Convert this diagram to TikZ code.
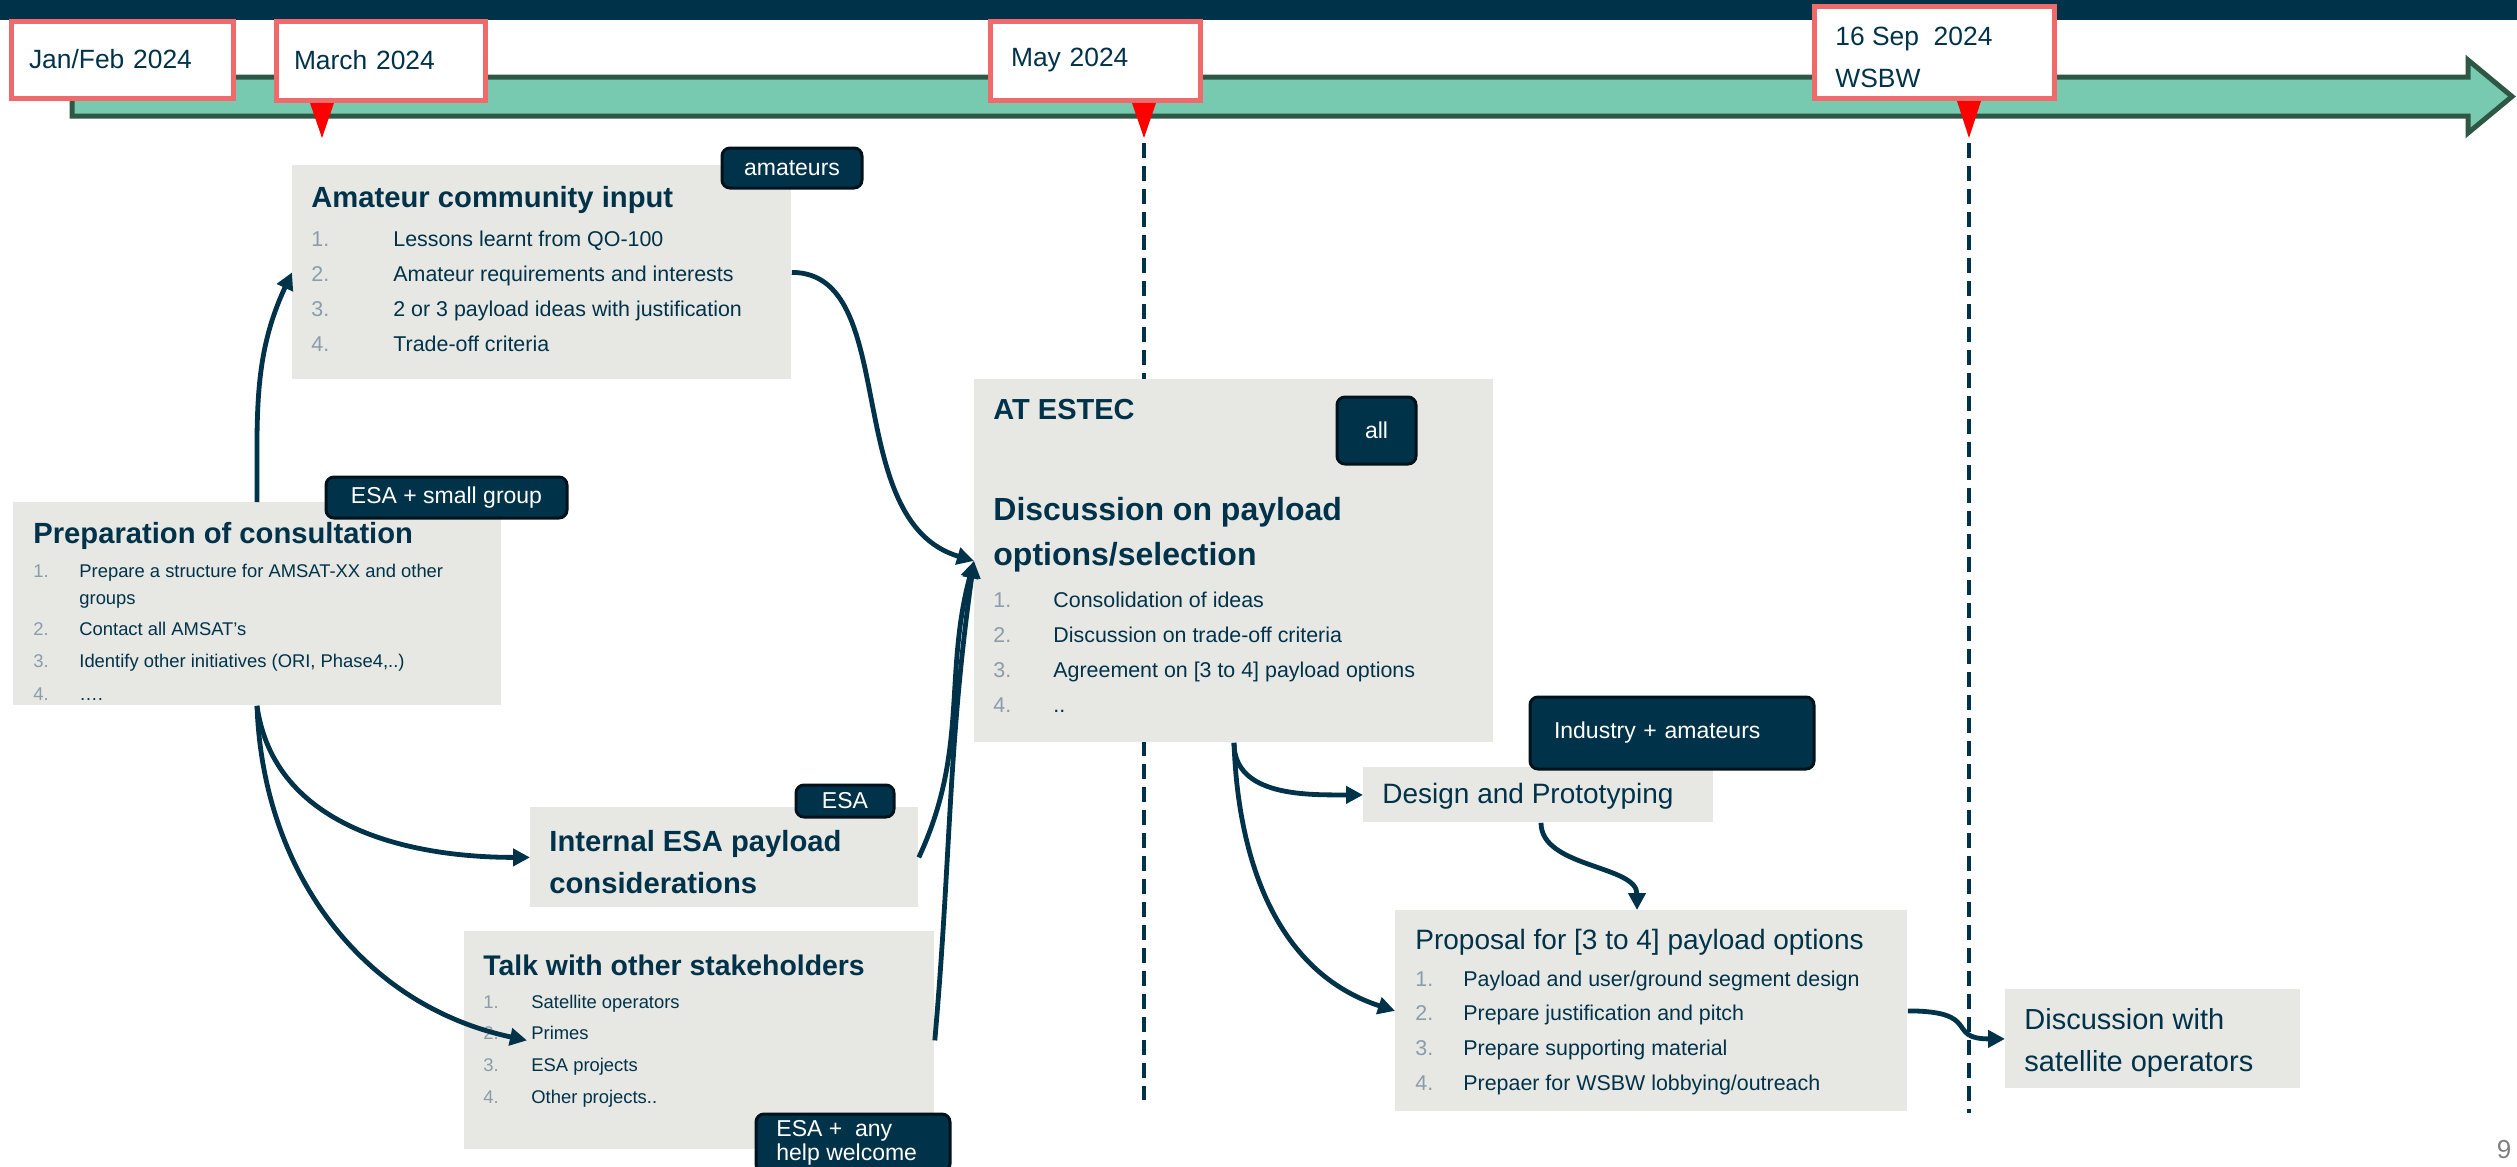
\documentclass[tikz,border=0pt]{standalone}
\usepackage{fontspec}
\setmainfont{Liberation Sans}
\usetikzlibrary{arrows.meta}

\definecolor{navy}{HTML}{00334A}
\definecolor{tagedge}{HTML}{00121C}
\definecolor{boxgray}{HTML}{E7E7E3}
\definecolor{numgray}{HTML}{8B9CAB}
\definecolor{tlgreen}{HTML}{77C9AF}
\definecolor{tledge}{HTML}{2F5746}
\definecolor{salmon}{HTML}{F06A6C}

\newcommand{\fnt}[1]{\fontsize{#1}{#1}\selectfont}
\newcommand{\inum}[2]{\makebox[#1][l]{\textcolor{numgray}{#2}}}

\tikzset{
  gbox/.style={fill=boxgray, inner sep=0pt, anchor=north west},
  txt/.style={anchor=base west, inner sep=0pt, text=navy},
  datebox/.style={draw=salmon, line width=2.5pt, fill=white, inner ysep=0pt,
    align=left, text=navy, font=\fnt{13.2}},
  tag/.style={fill=navy, draw=tagedge, line width=1.5pt, rounded corners=4pt,
    text=white, font=\fnt{11.5}, inner sep=0pt},
  conn/.style={draw=navy, line width=2.4pt, -{Triangle[length=8.5pt,width=8.5pt]}},
  milestone/.style={navy, line width=1.7pt, dash pattern=on 7.5pt off 4pt}
}

\begin{document}
\begin{tikzpicture}[x=0.5pt, y=0.5pt]
  \useasboundingbox (0,0) rectangle (2517,-1167);

  % top bar and time line
  \fill[navy] (0,0) rectangle (2517,-20);
  \draw[tledge, fill=tlgreen, line width=2.5pt, line join=miter]
    (72,-77) -- (2468,-77) -- (2468,-60) -- (2512,-96.5) -- (2468,-133)
    -- (2468,-116) -- (72,-116) -- cycle;

  % milestones
  \fill[red] (309,-100) -- (335,-100) -- (322,-138) -- cycle;
  \fill[red] (1131,-100) -- (1157,-100) -- (1144,-138) -- cycle;
  \fill[red] (1956,-98) -- (1982,-98) -- (1969,-138) -- cycle;
  \draw[milestone] (1144,-143) -- (1144,-1100);
  \draw[milestone] (1969,-143) -- (1969,-1113);

  \node[datebox, minimum width=111pt, minimum height=38.5pt, inner xsep=9pt,
    text width=93pt] (jan) at (122,-59.5) {Jan/Feb 2024};
  \node[datebox, minimum width=104.5pt, minimum height=39.5pt, inner xsep=9pt,
    text width=86.5pt] (mar) at (380.5,-60.5) {March 2024};
  \node[datebox, minimum width=105pt, minimum height=39.5pt, inner xsep=10.5pt,
    text width=84pt] (may) at (1095,-60.5) {May 2024};
  \node[datebox, minimum width=120pt, minimum height=46pt, inner xsep=10.5pt,
    text width=99pt] (sep) at (1934,-52) {};
  \node[txt, font=\fnt{13.2}] (sep-1) at (1835,-45) {16 Sep~~2024};
  \node[txt, font=\fnt{13.2}] (sep-2) at (1835,-87) {WSBW};

  % boxes
  \node[gbox, minimum width=249.5pt, minimum height=107pt] (amat) at (292,-165) {};
  \node[gbox, minimum width=244pt, minimum height=101.5pt] (prep) at (13,-502) {};
  \node[gbox, minimum width=259.5pt, minimum height=181.5pt] (estec) at (974,-379) {};
  \node[gbox, minimum width=194pt, minimum height=50pt] (internal) at (530,-807) {};
  \node[gbox, minimum width=235pt, minimum height=109pt] (talk) at (464,-931) {};
  \node[gbox, minimum width=175pt, minimum height=27.5pt] (design) at (1363,-767) {};
  \node[gbox, minimum width=256pt, minimum height=100.5pt] (proposal) at (1395,-910) {};
  \node[gbox, minimum width=147.5pt, minimum height=49.5pt] (disc) at (2005,-989) {};

  % amateur community input
  \node[txt, font=\fnt{14.6}\bfseries] (amat-title) at (311,-207.5) {Amateur community input};
  \foreach \t [count=\i] in {Lessons learnt from QO-100, Amateur requirements and interests,
      2 or 3 payload ideas with justification, Trade-off criteria}
    \node[txt, font=\fnt{10.7}] (amat-\i) at (311,{-246-35*(\i-1)}) {\inum{41pt}{\i.}\t};

  % preparation of consultation
  \node[txt, font=\fnt{14.6}\bfseries] (prep-title) at (33,-543.5) {Preparation of consultation};
  \node[txt, font=\fnt{9.2}] (prep-1) at (33,-577) {\inum{23pt}{1.}Prepare a structure for AMSAT-XX and other};
  \node[txt, font=\fnt{9.2}] (prep-1b) at (79,-604) {groups};
  \node[txt, font=\fnt{9.2}] (prep-2) at (33,-635) {\inum{23pt}{2.}Contact all AMSAT’s};
  \node[txt, font=\fnt{9.2}] (prep-3) at (33,-667) {\inum{23pt}{3.}Identify other initiatives (ORI, Phase4,..)};
  \node[txt, font=\fnt{9.2}] (prep-4) at (33,-700) {\inum{23pt}{4.}….};

  % at estec
  \node[txt, font=\fnt{14.5}\bfseries] (estec-head) at (993,-419.5) {AT ESTEC};
  \node[txt, font=\fnt{16}\bfseries] (estec-t1) at (993,-520.5) {Discussion on payload};
  \node[txt, font=\fnt{16}\bfseries] (estec-t2) at (993,-565.5) {options/selection};
  \foreach \t [count=\i] in {Consolidation of ideas, Discussion on trade-off criteria,
      Agreement on [3 to 4] payload options, ..}
    \node[txt, font=\fnt{10.7}] (estec-\i) at (993,{-607-35.3*(\i-1)}) {\inum{30pt}{\i.}\t};

  % internal esa
  \node[txt, font=\fnt{14.6}\bfseries] (int-t1) at (549,-851.5) {Internal ESA payload};
  \node[txt, font=\fnt{14.6}\bfseries] (int-t2) at (549,-893.5) {considerations};

  % other stakeholders
  \node[txt, font=\fnt{14.2}\bfseries] (talk-title) at (483,-975) {Talk with other stakeholders};
  \foreach \t [count=\i] in {Satellite operators, Primes, ESA projects, Other projects..}
    \node[txt, font=\fnt{9.2}] (talk-\i) at (483,{-1008-31.7*(\i-1)}) {\inum{24pt}{\i.}\t};

  % design, proposal, operators
  \node[txt, font=\fnt{14}] (design-t) at (1382,-803) {Design and Prototyping};
  \node[txt, font=\fnt{14}] (prop-title) at (1415,-949) {Proposal for [3 to 4] payload options};
  \foreach \t [count=\i] in {Payload and user/ground segment design, Prepare justification and pitch,
      Prepare supporting material, Prepaer for WSBW lobbying/outreach}
    \node[txt, font=\fnt{10.7}] (prop-\i) at (1415,{-986-34.7*(\i-1)}) {\inum{24pt}{\i.}\t};
  \node[txt, font=\fnt{14.5}] (disc-t1) at (2024,-1029.5) {Discussion with};
  \node[txt, font=\fnt{14.5}] (disc-t2) at (2024,-1071.5) {satellite operators};

  % who takes part
  \node[tag, minimum width=70pt, minimum height=20pt] (t-amat) at (792,-168) {amateurs};
  \node[tag, minimum width=120.5pt, minimum height=20.5pt] (t-prep) at (446.5,-497.5) {ESA + small group};
  \node[tag, minimum width=49pt, minimum height=16pt] (t-int) at (845,-801) {ESA};
  \node[tag, minimum width=39.5pt, minimum height=33.5pt] (t-all) at (1376.5,-430.5) {all};
  \node[tag, minimum width=142pt, minimum height=36pt, text width=118pt, align=left]
    (t-ind) at (1672,-733) {Industry + amateurs};
  \node[tag, minimum width=97pt, minimum height=29pt] (t-talk) at (853,-1143) {};
  \node[txt, text=white, font=\fnt{11.5}] (t-talk-1) at (776,-1136) {ESA +~~any};
  \node[txt, text=white, font=\fnt{11.5}] (t-talk-2) at (776,-1160) {help welcome};

  % connectors
  \coordinate (prep-top) at ([xshift=122pt]prep.north west);
  \coordinate (prep-bot) at ([xshift=122pt]prep.south west);
  \coordinate (estec-bot) at ([xshift=130pt]estec.south west);
  \coordinate (design-bot) at ([xshift=89pt]design.south west);
  \coordinate (prop-top) at ([xshift=121pt]proposal.north west);
  \coordinate (talk-in) at ([xshift=31.5pt]talk.west);

  \draw[conn] (prep-top) to[out=90, in=245] (amat.west);
  \draw[conn] (amat.east) .. controls +(110,0) and +(-135,40) .. (estec.west);
  \draw[conn] (prep-bot) to[out=-82, in=180] (internal.west);
  \draw[conn] (prep-bot) to[out=-88, in=168] (talk-in);
  \draw[conn] (internal.east) to[out=65, in=-105] (estec.west);
  \draw[conn] (talk.east) to[out=85, in=-98] (estec.west);
  \draw[conn] (estec-bot) to[out=-90, in=180] (design.west);
  \draw[conn] (estec-bot) to[out=-88, in=162] (proposal.west);
  \draw[conn] (design-bot) .. controls +(0,-45) and +(0,45) .. (prop-top);
  \draw[conn] (proposal.east) .. controls +(75,0) and +(-60,0) .. (disc.west);

  \node[text=gray, font=\fnt{13}, inner sep=0pt] (pgnum) at (2504,-1150) {9};
\end{tikzpicture}
\end{document}
